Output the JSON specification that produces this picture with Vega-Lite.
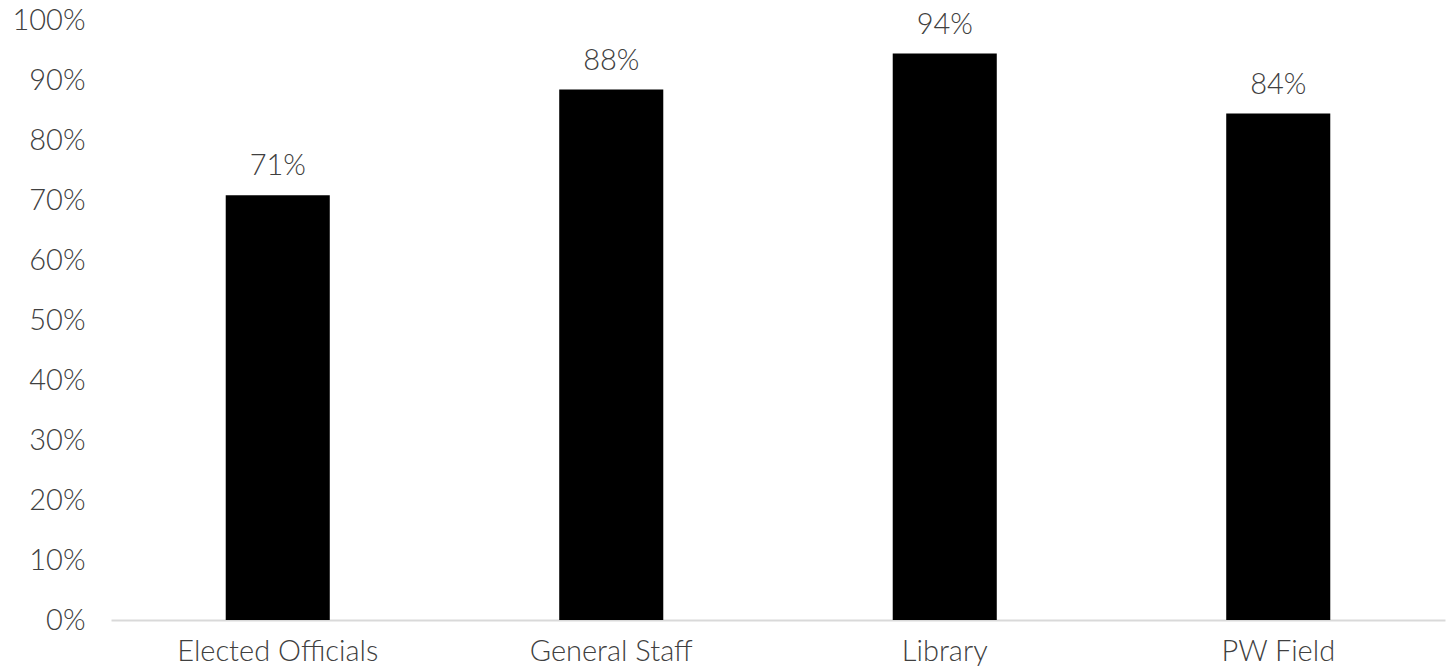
{
  "$schema": "https://vega.github.io/schema/vega-lite/v6.json",
  "autosize": "none",
  "width": 1334,
  "height": 600,
  "padding": {"left": 111, "top": 20, "right": 3, "bottom": 52},
  "background": "white",
  "config": {
    "view": {"stroke": null},
    "font": "Lato",
    "axis": {"labelFont": "Lato", "labelFontWeight": 300, "labelColor": "#404040", "labelFontSize": 29, "labelLimit": 0}
  },
  "data": {
    "values": [
      {"category": "Elected Officials", "value": 0.708, "label": "71%"},
      {"category": "General Staff", "value": 0.884, "label": "88%"},
      {"category": "Library", "value": 0.944, "label": "94%"},
      {"category": "PW Field", "value": 0.844, "label": "84%"}
    ]
  },
  "encoding": {
    "x": {
      "field": "category", "type": "nominal", "sort": null,
      "scale": {"paddingInner": 0.688, "paddingOuter": 0.344},
      "axis": {"title": null, "labelAngle": 0, "ticks": false, "domainColor": "#d9d9d9", "domainWidth": 2, "labelPadding": 17}
    },
    "y": {
      "field": "value", "type": "quantitative",
      "scale": {"domain": [0, 1], "nice": false},
      "axis": {"title": null, "format": ".0%", "values": [0, 0.1, 0.2, 0.3, 0.4, 0.5, 0.6, 0.7, 0.8, 0.9, 1.0], "grid": false, "domain": false, "ticks": false, "labelPadding": 26}
    }
  },
  "layer": [
    {"mark": {"type": "bar", "color": "#000000"}},
    {
      "mark": {"type": "text", "baseline": "bottom", "dy": -14, "font": "Lato", "fontWeight": 300, "fontSize": 29, "color": "#404040"},
      "encoding": {"text": {"field": "label"}}
    }
  ]
}
